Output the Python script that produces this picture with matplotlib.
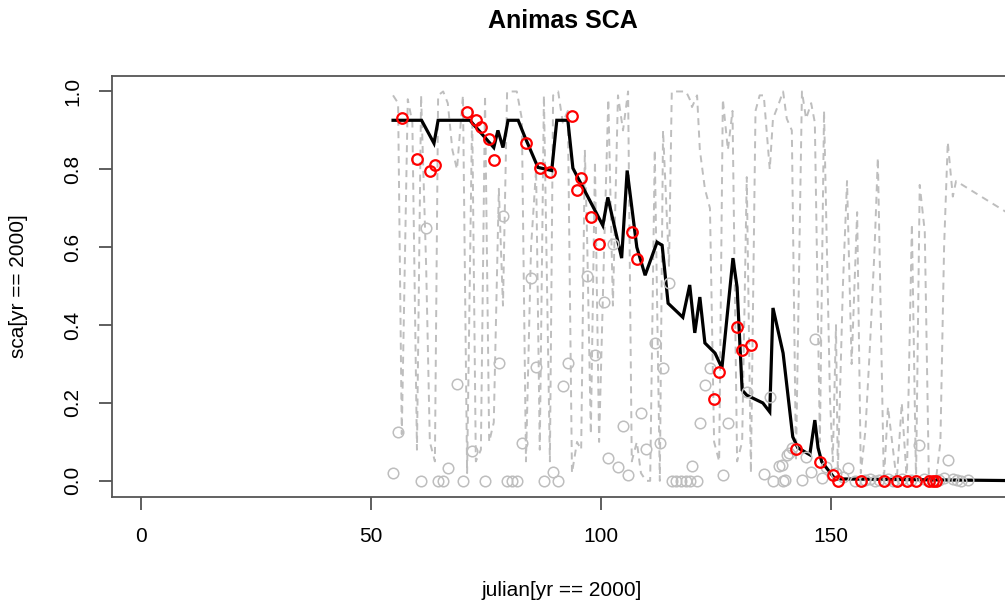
import matplotlib
matplotlib.use("Agg")
import matplotlib.pyplot as plt

plt.rcParams['font.family'] = ['Liberation Sans', 'DejaVu Sans']

# ---- data ----
# black line: smoothed / interpolated SCA
line_day = [54.8, 61.0, 63.7, 64.6, 71.5, 76.7, 77.6, 78.7, 79.8, 82.0, 83.5, 86.3,
            89.3, 90.4, 92.8, 93.9, 100.4, 101.5, 104.5, 105.7, 107.8, 109.6, 112.2,
            113.3, 114.6, 117.8, 119.3, 120.4, 121.5, 122.6, 124.8, 126.3, 128.7,
            129.6, 130.7, 131.7, 135.2, 136.7, 137.4, 139.6, 141.7, 142.8, 145.4,
            146.5, 147.2, 148.0, 150.9, 195.0]
line_sca = [0.926, 0.926, 0.867, 0.926, 0.926, 0.856, 0.900, 0.856, 0.926, 0.926, 0.882,
            0.805, 0.797, 0.926, 0.926, 0.803, 0.656, 0.728, 0.572, 0.797, 0.600, 0.528,
            0.613, 0.605, 0.456, 0.420, 0.503, 0.380, 0.472, 0.354, 0.328, 0.290, 0.572,
            0.497, 0.233, 0.220, 0.200, 0.177, 0.444, 0.328, 0.113, 0.085, 0.067, 0.156,
            0.085, 0.049, 0.005, 0.0]

# gray dashed line: daily series
dash_day = [54.8, 55.9, 56.7, 58.0, 59.0, 60.0, 60.9, 62.0, 62.8, 63.9, 64.6, 65.7,
            66.7, 67.7, 68.7, 70.0, 70.9, 72.0, 72.8, 73.9, 74.8, 75.7, 76.7, 77.8,
            78.7, 79.6, 80.7, 81.7, 82.8, 83.7, 84.8, 85.9, 86.7, 87.6, 88.9, 89.6,
            90.7, 91.7, 92.8, 93.7, 94.8, 95.7, 96.5, 97.0, 97.8, 98.7, 99.6, 100.7,
            101.6, 102.6, 103.7, 104.8, 105.9, 106.7, 107.8, 108.7, 109.8, 110.7,
            111.7, 112.8, 113.5, 114.8, 115.4, 116.3, 117.4, 118.5, 119.3, 119.8,
            120.9, 121.5, 122.6, 123.7, 124.6, 125.7, 126.5, 127.6, 128.6, 129.6,
            130.7, 131.7, 132.6, 133.6, 134.5, 135.4, 136.7, 137.4, 138.7, 139.6,
            140.4, 141.5, 142.4, 143.7, 144.6, 145.7, 146.5, 147.6, 148.5, 149.8,
            150.4, 151.1, 151.5, 152.6, 153.5, 154.5, 155.7, 156.5, 157.5, 158.5,
            159.5, 160.2, 161.5, 162.4, 163.3, 164.3, 165.4, 166.5, 167.6, 168.5,
            169.3, 170.4, 171.3, 172.2, 172.8, 173.8, 174.6, 175.4, 176.5, 177.2,
            195.0]
dash_val = [0.99, 0.97, 0.12, 0.98, 0.92, 0.08, 0.99, 0.55, 0.10, 0.05, 0.99, 1.00,
            0.97, 0.85, 0.80, 0.99, 0.02, 0.95, 0.05, 0.08, 0.99, 0.10, 0.15, 0.75,
            0.45, 1.00, 1.00, 1.00, 0.93, 0.05, 0.60, 0.80, 0.08, 0.99, 0.05, 0.99,
            1.00, 0.92, 0.95, 0.02, 0.10, 0.08, 0.85, 0.62, 0.12, 0.82, 0.10, 0.60,
            0.98, 0.45, 0.99, 0.90, 1.00, 0.05, 0.10, 0.02, 0.00, 0.00,
            0.85, 0.00, 0.90, 0.55, 1.00, 1.00, 1.00, 1.00, 0.98, 0.96,
            0.99, 0.85, 0.75, 0.70, 0.10, 0.05, 0.98, 0.85, 0.95, 0.05,
            0.10, 0.78, 0.02, 0.95, 0.99, 0.99, 0.80, 0.93, 0.97, 1.00,
            0.93, 0.90, 0.05, 1.00, 0.93, 0.97, 0.92, 0.10, 0.95, 0.21,
            0.05, 0.40, 0.02, 0.50, 0.77, 0.30, 0.69, 0.02, 0.13, 0.35,
            0.60, 0.83, 0.00, 0.19, 0.10, 0.00, 0.20, 0.00, 0.66, 0.00,
            0.76, 0.64, 0.00, 0.00, 0.00, 0.10, 0.60, 0.87, 0.73, 0.77,
            0.64]

# gray circles: all observations
obs_day = [54.8, 55.9, 60.9, 62.0, 64.6, 65.7, 66.7, 68.7, 70.0, 72.0, 74.8, 77.8,
           78.7, 79.6, 80.7, 81.7, 82.8, 84.8, 85.9, 87.6, 89.6, 90.7, 91.7, 92.8,
           97.0, 98.7, 100.7, 101.6, 102.6, 103.7, 104.8, 105.9, 108.7, 109.8, 111.7,
           112.8, 113.5, 114.8, 115.4, 116.3, 117.4, 118.5, 119.3, 119.8, 120.9, 121.5,
           122.6, 123.7, 126.5, 127.6, 131.7, 135.4, 136.7, 137.4, 138.7, 139.3, 139.6,
           140.0, 140.4, 140.9, 141.5, 143.7, 144.6, 145.7, 146.5, 148.0, 148.9, 151.1,
           152.6, 153.7, 155.2, 157.5, 158.5, 159.5, 160.5, 162.5, 163.5, 165.5, 167.5,
           169.1, 170.2, 173.5, 174.5, 175.4, 176.5, 177.5, 178.3, 179.8]
obs_sca = [0.020, 0.126, 0.000, 0.649, 0.000, 0.000, 0.033, 0.249, 0.000, 0.077, 0.000, 0.303,
           0.679, 0.000, 0.000, 0.000, 0.097, 0.520, 0.292, 0.000, 0.023, 0.000, 0.244, 0.303,
           0.526, 0.323, 0.459, 0.059, 0.608, 0.036, 0.141, 0.015, 0.174, 0.082, 0.354,
           0.097, 0.290, 0.508, 0.000, 0.000, 0.000, 0.000, 0.000, 0.038, 0.000, 0.149,
           0.246, 0.290, 0.015, 0.149, 0.228, 0.018, 0.215, 0.000, 0.038, 0.041, 0.000,
           0.003, 0.067, 0.072, 0.085, 0.003, 0.062, 0.023, 0.364, 0.008, 0.036, 0.020,
           0.010, 0.033, 0.000, 0.003, 0.005, 0.000, 0.003, 0.005, 0.000, 0.004, 0.003,
           0.092, 0.005, 0.003, 0.008, 0.054, 0.006, 0.003, 0.000, 0.002]

# red circles: cloud-free observations
clear_day = [56.7, 60.0, 62.8, 63.9, 70.9, 72.8, 73.9, 75.7, 76.7, 83.7, 86.7, 88.9,
             93.7, 94.8, 95.7, 97.8, 99.6, 106.7, 107.8, 124.6, 125.7, 129.6, 130.7,
             132.6, 142.4, 147.6, 150.4, 151.5, 156.5, 161.5, 164.3, 166.5, 168.5,
             171.3, 172.2, 172.8]
clear_sca = [0.931, 0.826, 0.797, 0.810, 0.946, 0.926, 0.908, 0.877, 0.823, 0.867, 0.803, 0.792,
             0.936, 0.746, 0.779, 0.677, 0.608, 0.638, 0.569, 0.210, 0.280, 0.395, 0.336,
             0.349, 0.082, 0.049, 0.015, 0.000, 0.000, 0.000, 0.000, 0.000, 0.000,
             0.000, 0.000, 0.000]

x_ticks = [0, 50, 100, 150]
y_ticks = [0.0, 0.2, 0.4, 0.6, 0.8, 1.0]

title = "Animas SCA"
xlabel = "julian[yr == 2000]"
ylabel = "sca[yr == 2000]"

# ---- figure ----
W, H = 1005, 604
fig = plt.figure(figsize=(W / 100, H / 100), dpi=100)
ax = fig.add_axes([112 / W, (H - 497) / H, (1014 - 112) / W, (497 - 75.7) / H])

gray = "#BEBEBE"
ax.plot(dash_day, dash_val, color=gray, lw=1.4, ls=(0, (3.6, 2.8)), zorder=1)
ax.plot(line_day, line_sca, color="black", lw=2.3, zorder=2, solid_joinstyle="miter")
ax.plot(obs_day, obs_sca, ls="none", marker="o", ms=7.6, mfc="none", mec=gray,
        mew=1.1, zorder=3)
ax.plot(clear_day, clear_sca, ls="none", marker="o", ms=7.6, mfc="none", mec="#FF0000",
        mew=1.6, zorder=4)

ax.set_xlim(-6.3, 189.8)
ax.set_ylim(-0.0415, 1.0405)
ax.set_xticks(x_ticks)
ax.set_xticklabels([str(v) for v in x_ticks])
ax.set_yticks(y_ticks)
ax.set_yticklabels(["%.1f" % v for v in y_ticks], rotation=90, va="center")

for s in ax.spines.values():
    s.set_color("#555555")
    s.set_linewidth(1.3)
ax.spines["right"].set_visible(False)
ax.tick_params(axis="both", direction="out", length=9.5, width=1.1, color="#333333",
               labelsize=15, labelcolor="black")
ax.tick_params(axis="x", pad=12)
ax.tick_params(axis="y", pad=12)

fig.text(563 / W, 1 - 21 / H, title, ha="center", va="center", fontsize=18,
         fontweight="bold")
fig.text(562 / W, 1 - 590 / H, xlabel, ha="center", va="center", fontsize=15)
fig.text(18 / W, 1 - 286 / H, ylabel, ha="center", va="center", fontsize=15,
         rotation=90)

fig.savefig("out.png", dpi=100)
